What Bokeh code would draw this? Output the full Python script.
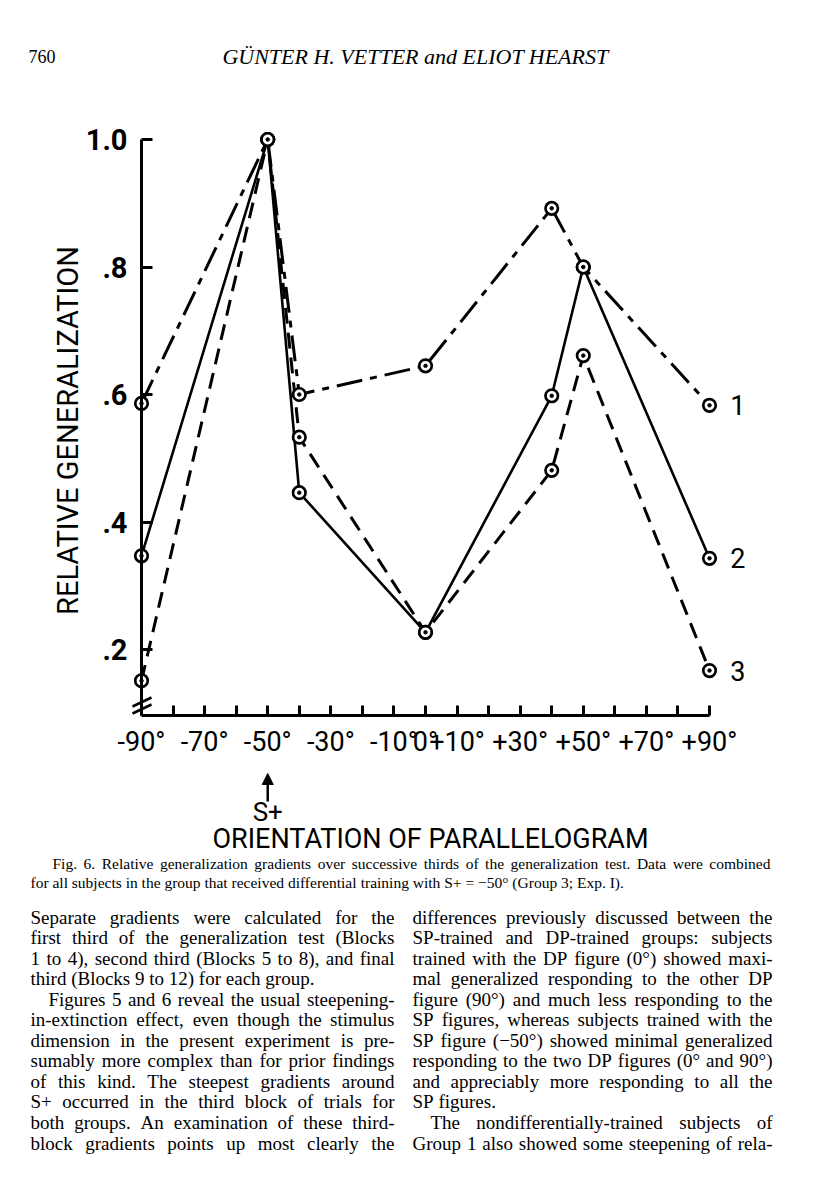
import math
from bokeh.plotting import figure
from bokeh.models import Range1d, LinearAxis, FixedTicker, Arrow, NormalHead
from bokeh.core.properties import value
from bokeh.embed import file_html
from bokeh.resources import INLINE

# ---------------- data ----------------
orientation = [-90, -50, -40, 0, 40, 50, 90]
third_1 = [0.586, 1.000, 0.600, 0.645, 0.892, 0.800, 0.583]   # first third  (dash-dot)
third_2 = [0.347, 1.000, 0.446, 0.227, 0.598, 0.800, 0.343]   # second third (solid)
third_3 = [0.151, 1.000, 0.533, 0.227, 0.481, 0.661, 0.167]   # final third  (dashed)
series_names = ["1", "2", "3"]

x_ticks = list(range(-90, 91, 10))
x_tick_labels = {-90: "-90°", -70: "-70°", -50: "-50°", -30: "-30°", -10: "-10°",
                 0: "0°", 10: "+10°", 30: "+30°", 50: "+50°", 70: "+70°", 90: "+90°"}
y_ticks = [0.2, 0.4, 0.6, 0.8, 1.0]
y_tick_labels = [".2", ".4", ".6", ".8", "1.0"]
y_floor = 0.096
splus = -50

# ---------------- page geometry ----------------
W, H = 800, 1184
OFF = 0
PX0, PX1 = 141.0, 709.0      # page x of -90 and +90
PY1, PY2 = 139.0, 649.0      # page y of 1.0 and 0.2
SX = (PX1 - PX0) / 180.0
SY = (PY2 - PY1) / 0.8

def dx(px):
    return -90 + (px - PX0) / SX

def dy(py):
    return 1.0 - (py - PY1) / SY

p = figure(width=W, height=H, output_backend="svg", toolbar_location=None,
           x_range=Range1d(dx(OFF), dx(OFF + W)), y_range=Range1d(dy(OFF + H), dy(OFF)),
           x_axis_type=None, y_axis_type=None, min_border=0,
           background_fill_color="white", border_fill_color="white")
p.outline_line_color = None
p.grid.visible = False

SANS = "Roboto"
SERIF = "Liberation Serif"

# ---------------- axes ----------------
xa = LinearAxis(fixed_location=y_floor, bounds=(-90, 90),
                ticker=FixedTicker(ticks=x_ticks),
                major_label_overrides={t: x_tick_labels.get(t, "") for t in x_ticks})
xa.axis_line_width = 3
xa.major_tick_line_width = 3
xa.major_tick_in = 10
xa.major_tick_out = 0
xa.minor_tick_line_color = None
xa.major_label_standoff = 10
xa.major_label_text_font = SANS
xa.major_label_text_font_size = "27px"
xa.major_label_text_color = "black"
p.add_layout(xa, "below")

ya = LinearAxis(fixed_location=-90, bounds=(y_floor, 1.0),
                ticker=FixedTicker(ticks=y_ticks),
                major_label_overrides={t: l for t, l in zip(y_ticks, y_tick_labels)})
ya.axis_line_width = 3
ya.major_tick_line_width = 3
ya.major_tick_in = 11
ya.major_tick_out = 0
ya.minor_tick_line_color = None
ya.major_label_standoff = 14
ya.major_label_text_font = SANS
ya.major_label_text_font_style = "bold"
ya.major_label_text_font_size = "29px"
ya.major_label_text_color = "black"
p.add_layout(ya, "left")

# axis break marks
p.segment(x0=[dx(132), dx(132)], y0=[dy(706), dy(713)], x1=[dx(151), dx(151)], y1=[dy(697), dy(704)],
          line_color="black", line_width=2.5)

# ---------------- series ----------------
styles = [dict(line_dash="26 8 7 8", line_width=3),
          dict(line_dash="solid", line_width=2.6),
          dict(line_dash="16 9", line_width=3)]
for vals, st in zip([third_1, third_2, third_3], styles):
    p.line(orientation, vals, line_color="black", **st)
for vals in [third_1, third_2, third_3]:
    p.scatter(orientation, vals, size=12.5, fill_color="white", line_color="black", line_width=2.7)
    p.scatter(orientation, vals, size=3.5, fill_color="black", line_color="black")

# series numbers at the right end
p.text(x=[orientation[-1] + 9] * 3, y=[third_1[-1], third_2[-1], third_3[-1]], text=series_names,
       text_font=value(SANS), text_font_size=value("27px"), text_align="center",
       text_baseline="middle", text_color="black")

# S+ arrow
p.add_layout(Arrow(end=NormalHead(size=11, fill_color="black", line_color="black"),
                   x_start=splus, y_start=dy(801), x_end=splus, y_end=dy(773),
                   line_width=2.5, line_color="black"))
p.text(x=[splus], y=[dy(811)], text=["S+"], text_font=value(SANS), text_font_size=value("26px"),
       text_align="center", text_baseline="middle", text_color="black")

# axis titles
p.text(x=[dx(67)], y=[dy(430)], text=["RELATIVE GENERALIZATION"], angle=math.pi / 2,
       text_font=value(SANS), text_font_size=value("29px"), text_align="center",
       text_baseline="middle", text_color="black")
p.text(x=[dx(430)], y=[dy(838)], text=["ORIENTATION OF PARALLELOGRAM"],
       text_font=value(SANS), text_font_size=value("27px"), text_align="center",
       text_baseline="middle", text_color="black")

# ---------------- page text ----------------
p.text(x=[dx(28)], y=[dy(56)], text=["760"], text_font=value(SERIF), text_font_size=value("18px"),
       text_align="left", text_baseline="alphabetic", text_color="black")
p.text(x=[dx(415)], y=[dy(56)], text=["GÜNTER H. VETTER and ELIOT HEARST"], text_font=value(SERIF),
       text_font_size=value("22px"), text_font_style="italic", text_align="center",
       text_baseline="alphabetic", text_color="black")

TW = {' ': 250, 'a': 444, 'b': 500, 'c': 444, 'd': 500, 'e': 444, 'f': 333, 'g': 500, 'h': 500,
      'i': 278, 'j': 278, 'k': 500, 'l': 278, 'm': 778, 'n': 500, 'o': 500, 'p': 500, 'q': 500,
      'r': 333, 's': 389, 't': 278, 'u': 500, 'v': 500, 'w': 722, 'x': 500, 'y': 500, 'z': 444,
      'A': 722, 'B': 667, 'C': 667, 'D': 722, 'E': 611, 'F': 556, 'G': 722, 'H': 722, 'I': 333,
      'J': 389, 'K': 722, 'L': 611, 'M': 889, 'N': 722, 'O': 722, 'P': 556, 'Q': 722, 'R': 667,
      'S': 556, 'T': 611, 'U': 722, 'V': 722, 'W': 944, 'X': 722, 'Y': 722, 'Z': 611,
      '.': 250, ',': 250, ':': 278, ';': 278, '-': 333, '(': 333, ')': 333, '°': 400, '+': 564,
      '=': 564, '−': 564}

def word_w(w, size):
    return sum(TW.get(c, 500) for c in w) / 1000.0 * size

def lay_line(line, x0, x1, py, size, justify, acc):
    words = line.split()
    ws = [word_w(w, size) for w in words]
    if justify and len(words) > 1:
        gap = max((x1 - x0 - sum(ws)) / (len(words) - 1), 0.15 * size)
    else:
        gap = 0.25 * size
    x = x0
    for w, wd in zip(words, ws):
        acc[0].append(dx(x)); acc[1].append(dy(py)); acc[2].append(w)
        x += wd + gap

CAP = 15.5
caption = ["Fig. 6. Relative generalization gradients over successive thirds of the generalization test. Data were combined",
           "for all subjects in the group that received differential training with S+ = −50° (Group 3; Exp. I)."]
cap_acc = ([], [], [])
lay_line(caption[0], 52, 770, 863, CAP, True, cap_acc)
lay_line(caption[1], 30, 770, 882, CAP, False, cap_acc)
p.text(x=cap_acc[0], y=cap_acc[1], text=cap_acc[2], text_font=value(SERIF), text_font_size=value(f"{CAP}px"),
       text_align="left", text_baseline="alphabetic", text_color="black")

left_lines = ["Separate gradients were calculated for the",
              "first third of the generalization test (Blocks",
              "1 to 4), second third (Blocks 5 to 8), and final",
              "third (Blocks 9 to 12) for each group.",
              "Figures 5 and 6 reveal the usual steepening-",
              "in-extinction effect, even though the stimulus",
              "dimension in the present experiment is pre-",
              "sumably more complex than for prior findings",
              "of this kind. The steepest gradients around",
              "S+ occurred in the third block of trials for",
              "both groups. An examination of these third-",
              "block gradients points up most clearly the"]
right_lines = ["differences previously discussed between the",
               "SP-trained and DP-trained groups: subjects",
               "trained with the DP figure (0°) showed maxi-",
               "mal generalized responding to the other DP",
               "figure (90°) and much less responding to the",
               "SP figures, whereas subjects trained with the",
               "SP figure (−50°) showed minimal generalized",
               "responding to the two DP figures (0° and 90°)",
               "and appreciably more responding to all the",
               "SP figures.",
               "The nondifferentially-trained subjects of",
               "Group 1 also showed some steepening of rela-"]
left_indent, left_last = {4}, {3}
right_indent, right_last = {10}, {9}

BODY = 19
body_acc = ([], [], [])
for i, ln in enumerate(left_lines):
    py = 916.5 + i * 20.55
    lay_line(ln, 30 + (18 if i in left_indent else 0), 394, py, BODY, i not in left_last, body_acc)
for i, ln in enumerate(right_lines):
    py = 916.5 + i * 20.55
    lay_line(ln, 412 + (18 if i in right_indent else 0), 772, py, BODY, i not in right_last, body_acc)
p.text(x=body_acc[0], y=body_acc[1], text=body_acc[2], text_font=value(SERIF),
       text_font_size=value(f"{BODY}px"), text_align="left", text_baseline="alphabetic",
       text_color="black")

open("out.html", "w").write(file_html(p, INLINE))
